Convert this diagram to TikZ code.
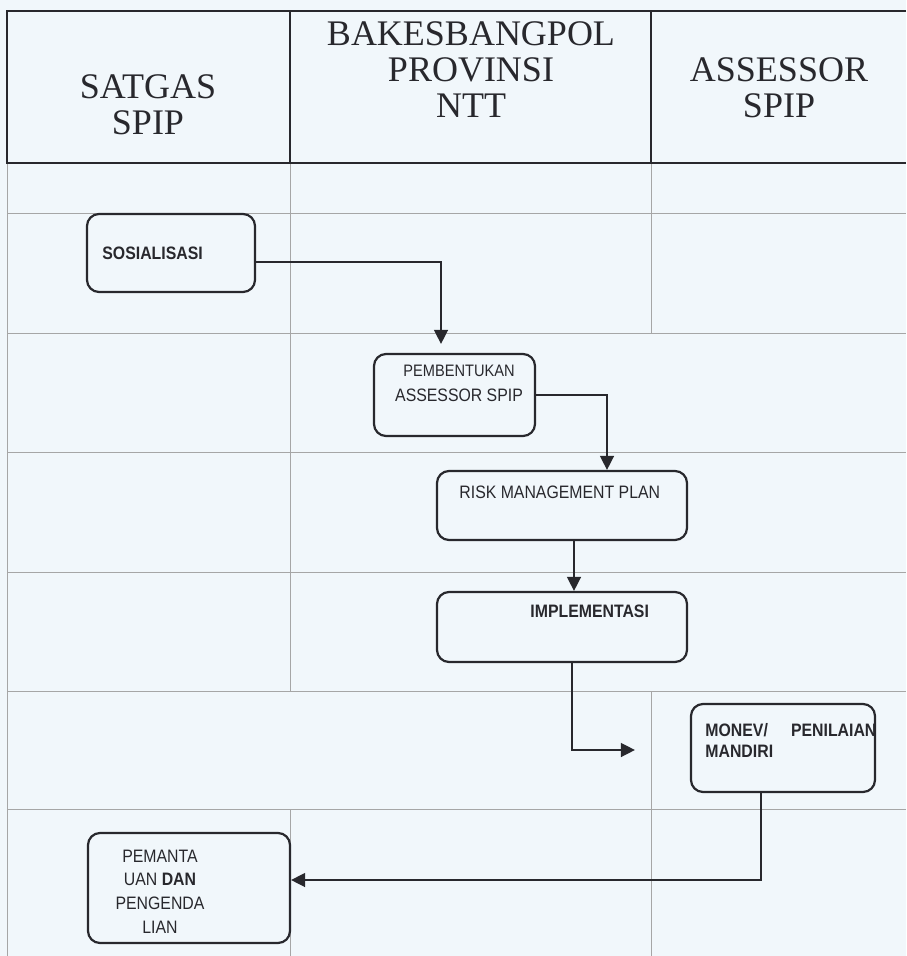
\documentclass[tikz,border=0pt]{standalone}
\usepackage{fontspec}
\usepackage{tikz}
\usetikzlibrary{arrows.meta}
\usetikzlibrary{positioning}
\newfontfamily\headfont{Liberation Serif}
\newfontfamily\boxfont{Liberation Sans}[FakeStretch=0.88]
\definecolor{paper}{RGB}{241,247,251}
\definecolor{ink}{RGB}{40,40,45}

\begin{document}
\begin{tikzpicture}[
  x=0.5pt, y=-0.5pt,
  lane/.style={draw=black!35,line width=0.4pt},
  head/.style={draw=ink,line width=1pt},
  stepbox/.style={draw=ink,fill=paper,rounded corners=6pt,line width=1.1pt,inner sep=0pt},
  flow/.style={draw=ink,line width=0.7pt,-{Triangle[length=7pt,width=7pt]}},
  headtxt/.style={font=\headfont\fontsize{18}{18}\selectfont,align=center,inner sep=0pt,text=ink},
  boxtxt/.style={font=\boxfont\fontsize{9}{11}\selectfont,inner sep=0pt,text=ink}]
\useasboundingbox (0,0) rectangle (906,956);
\fill[paper] (0,0) rectangle (906,956);
\foreach \y in {213,333,452,572,691,809}
  \draw[lane] (7,\y) -- (906,\y);
\draw[lane] (7,163) -- (7,956);
\draw[lane] (290,163) -- (290,691) (290,809) -- (290,956);
\draw[lane] (651,163) -- (651,333) (651,691) -- (651,956);
\draw[head] (906,11) -- (7,11) -- (7,163) -- (906,163);
\draw[head] (290,11) -- (290,163) (651,11) -- (651,163);
\node[headtxt] (satgas) at (148,104.5) {SATGAS\\SPIP};
\node[headtxt] (bakes) at (471,69.5) {BAKESBANGPOL\\PROVINSI\\NTT};
\node[headtxt] (assessor) at (779,87.5) {ASSESSOR\\SPIP};
\node[stepbox,minimum width=84pt,minimum height=39pt] (sos) at (171,253) {};
\node[stepbox,minimum width=80.5pt,minimum height=41pt] (pemb) at (454.5,395) {};
\node[stepbox,minimum width=125pt,minimum height=34.5pt] (risk) at (562,505.5) {};
\node[stepbox,minimum width=125pt,minimum height=35pt] (impl) at (562,627) {};
\node[stepbox,minimum width=92pt,minimum height=44pt] (monev) at (783,748) {};
\node[stepbox,minimum width=101pt,minimum height=55pt] (peman) at (189,888) {};
\node[boxtxt,anchor=base west] (sostxt) at (102,260) {\bfseries SOSIALISASI};
\node[boxtxt,align=center,font=\boxfont\fontsize{9}{12.5}\selectfont] (pembtxt) at (459,383.5)
  {{\fontsize{8.3}{12.5}\selectfont PEMBENTUKAN}\\ASSESSOR SPIP};
\node[boxtxt,anchor=base west] (risktxt) at (459,498) {RISK MANAGEMENT PLAN};
\node[boxtxt,anchor=base west] (impltxt) at (530,617) {\bfseries IMPLEMENTASI};
\node[boxtxt,anchor=west,align=left,font=\boxfont\bfseries\fontsize{9}{10.5}\selectfont] (monevtxt) at (705,740.5)
  {\makebox[85.5pt][l]{MONEV/\hfill PENILAIAN}\\MANDIRI};
\node[boxtxt,align=center,font=\boxfont\fontsize{9}{11.8}\selectfont] (pemantxt) at (160,891.5)
  {PEMANTA\\UAN \textbf{DAN}\\PENGENDA\\LIAN};
\draw[flow,shorten >=4.5pt] ([yshift=-4.5pt]sos.east) -| ([xshift=-6.75pt]pemb.north);
\draw[flow] (pemb.east) -| ([xshift=22.5pt]risk.north);
\draw[flow] ([xshift=6pt]risk.south) -- ([xshift=6pt]impl.north);
\draw[flow,shorten >=27.5pt] ([xshift=5pt]impl.south) |- ([yshift=-1pt]monev.west);
\draw[flow] ([xshift=-11pt]monev.south) |- ([yshift=4pt]peman.east);
\end{tikzpicture}
\end{document}
